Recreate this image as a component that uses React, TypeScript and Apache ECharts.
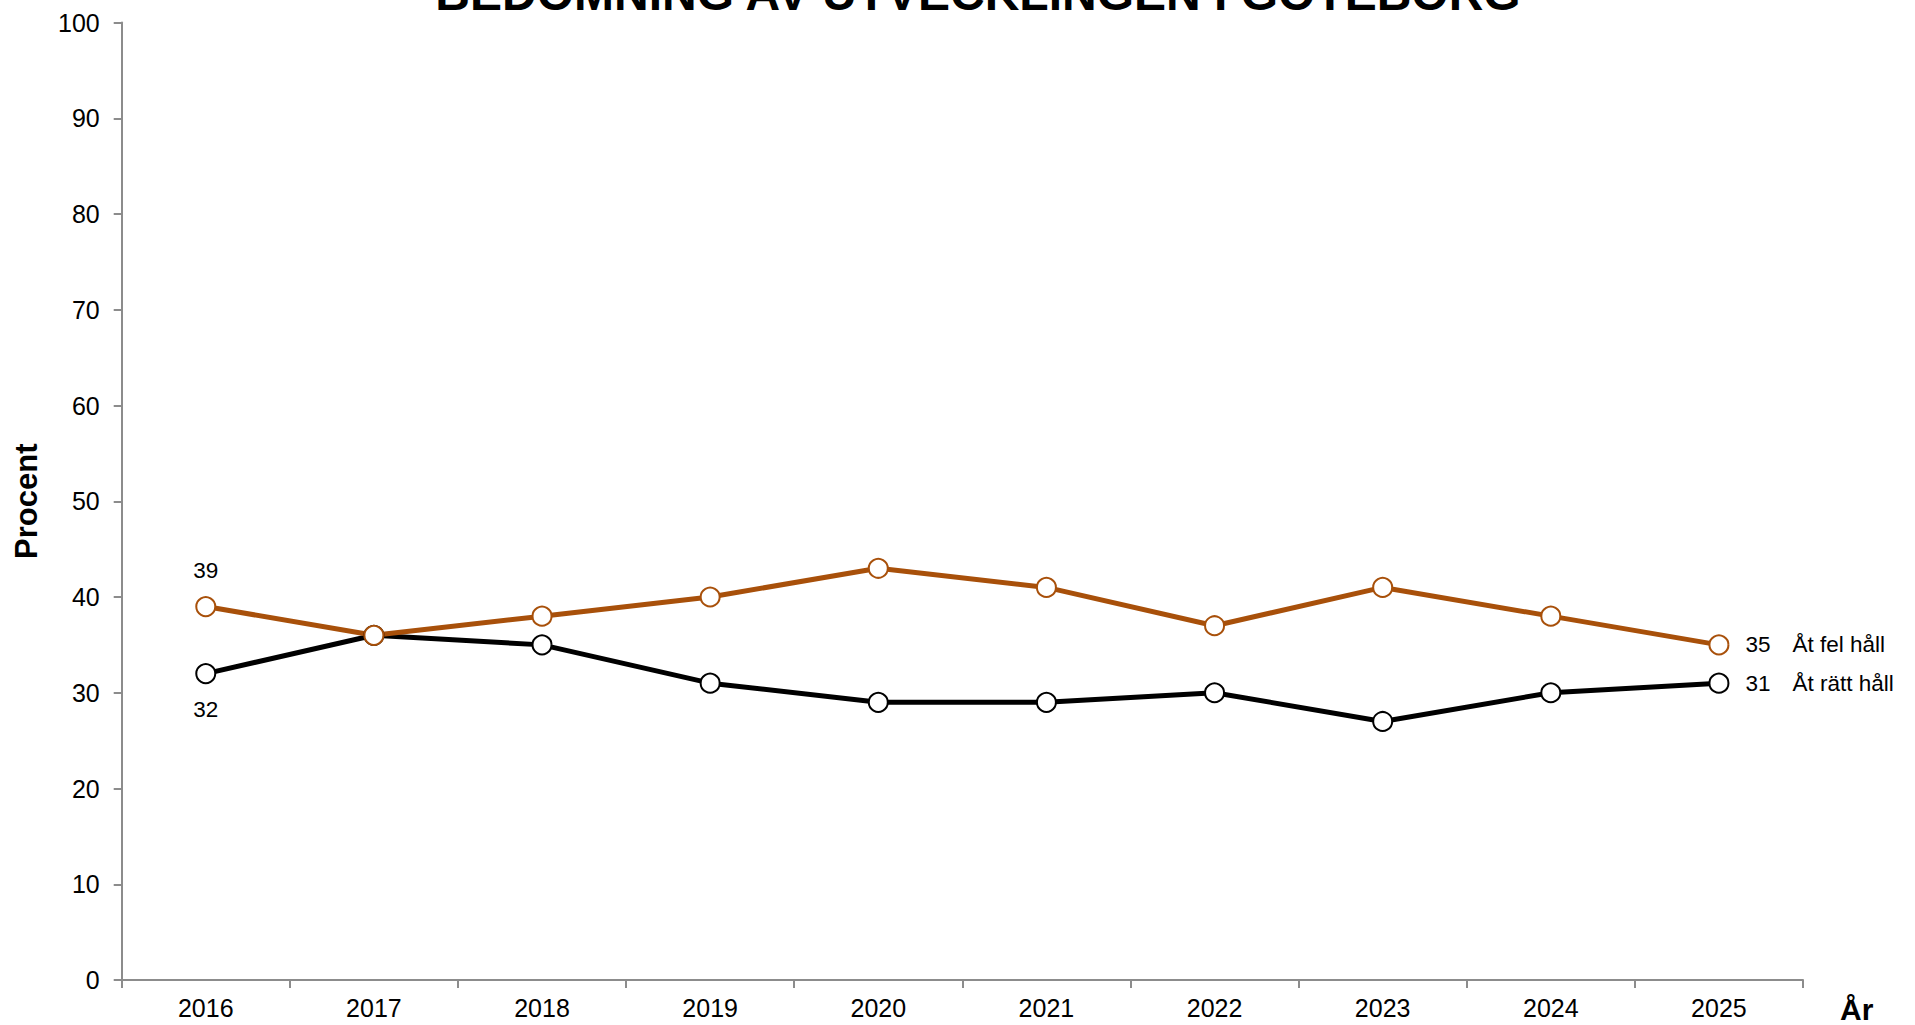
import React, { useEffect, useRef } from "react";
import * as echarts from "echarts";

const years = ["2016", "2017", "2018", "2019", "2020", "2021", "2022", "2023", "2024", "2025"];
const felHall = [39, 36, 38, 40, 43, 41, 37, 41, 38, 35];
const rattHall = [32, 36, 35, 31, 29, 29, 30, 27, 30, 31];
const felName = "Åt fel håll";
const rattName = "Åt rätt håll";
const titleText = "BEDÖMNING AV UTVECKLINGEN I GÖTEBORG";

const FONT = "'Liberation Sans', Arial, Helvetica, sans-serif";
const ORANGE = "#A8500A";

export default function App() {
  const ref = useRef<HTMLDivElement>(null);
  useEffect(() => {
    if (!ref.current) return;
    const chart = echarts.init(ref.current, null, { renderer: "svg" });
    const lastIdx = years.length - 1;
    const makeSeries = (name: string, data: number[], color: string, firstPos: string) => ({
      name,
      type: "line",
      data: data.map((v, i) => {
        if (i === 0) {
          return {
            value: v,
            label: { show: true, position: firstPos, distance: 14, formatter: "{c}" },
          };
        }
        if (i === lastIdx) {
          return {
            value: v,
            label: {
              show: true,
              position: "right",
              distance: 16,
              formatter: `{a|${v}}{b|${name}}`,
              rich: {
                a: { fontFamily: FONT, fontSize: 22.5, color: "#000" },
                b: { fontFamily: FONT, fontSize: 22.5, color: "#000", padding: [0, 0, 0, 22] },
              },
            },
          };
        }
        return v;
      }),
      symbol: "circle",
      symbolSize: 19,
      showAllSymbol: true,
      lineStyle: { color, width: 5 },
      itemStyle: { color: "#fff", borderColor: color, borderWidth: 2 },
      label: { show: false, fontFamily: FONT, fontSize: 22.5, color: "#000" },
      emphasis: { disabled: true },
    });
    chart.setOption({
      animation: false,
      backgroundColor: "#fff",
      textStyle: { fontFamily: FONT },
      grid: { left: 121.7, right: 112, top: 22.5, bottom: 45, containLabel: false },
      xAxis: {
        type: "category",
        data: years,
        boundaryGap: true,
        axisLine: { lineStyle: { color: "#8c8c8c", width: 2 } },
        axisTick: { show: true, length: 8, lineStyle: { color: "#8c8c8c", width: 2 } },
        axisLabel: { fontFamily: FONT, fontSize: 25, color: "#000", margin: 15 },
        splitLine: { show: false },
      },
      yAxis: {
        type: "value",
        min: 0,
        max: 100,
        interval: 10,
        name: "Procent",
        nameLocation: "middle",
        nameGap: 80,
        nameTextStyle: { fontFamily: FONT, fontSize: 31, fontWeight: "bold", color: "#000" },
        axisLine: { show: true, lineStyle: { color: "#8c8c8c", width: 2 } },
        axisTick: { show: true, length: 8, lineStyle: { color: "#8c8c8c", width: 2 } },
        axisLabel: { fontFamily: FONT, fontSize: 25, color: "#000", margin: 22 },
        splitLine: { show: false },
      },
      graphic: [
        {
          type: "text",
          x: 978,
          y: -7,
          style: {
            text: titleText,
            align: "center",
            verticalAlign: "middle",
            fontFamily: FONT,
            fontSize: 48,
            fontWeight: "bold",
            fill: "#000",
          },
        },
        {
          type: "text",
          x: 1840,
          y: 1009,
          style: {
            text: "År",
            align: "left",
            verticalAlign: "middle",
            fontFamily: FONT,
            fontSize: 30,
            fontWeight: "bold",
            fill: "#000",
          },
        },
      ],
      series: [
        makeSeries(rattName, rattHall, "#000000", "bottom"),
        makeSeries(felName, felHall, ORANGE, "top"),
      ],
    });
    return () => chart.dispose();
  }, []);
  return (
    <div
      ref={ref}
      style={{ position: "fixed", left: 0, top: 0, width: 1915, height: 1025, background: "#fff" }}
    />
  );
}
